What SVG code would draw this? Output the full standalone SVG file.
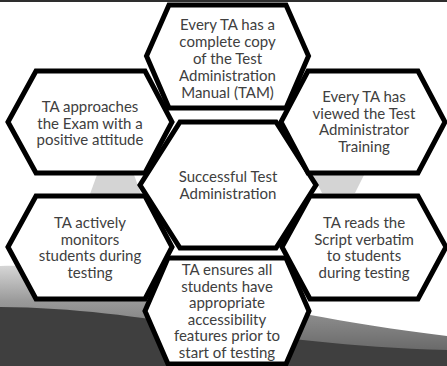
<svg xmlns="http://www.w3.org/2000/svg" width="447" height="366" viewBox="0 0 447 366">
<defs>
<style>
.hex{fill:#ffffff;stroke:#000000;stroke-width:5;stroke-linejoin:miter}
.t{font-family:Lato,"Open Sans","Liberation Sans",sans-serif;font-size:15px;fill:#404040;text-anchor:middle}
.gap{fill:#d4d4d4}
</style>
<linearGradient id="band" x1="0" y1="0" x2="0" y2="1">
<stop offset="0" stop-color="#d6d6d6"/>
<stop offset="0.35" stop-color="#9a9a9a"/>
<stop offset="1" stop-color="#5a5a5a"/>
</linearGradient>
</defs>
<rect width="447" height="366" fill="#ffffff"/>
<g id="background">
<path d="M0,266 C120,262 230,310 447,336 L447,366 L0,366 Z" fill="url(#band)"/>
<path d="M0,307 C150,308 250,345 447,350 L447,366 L0,366 Z" fill="#3f3f3f"/>
<rect x="0" y="0" width="447" height="2" fill="#2e2e2e"/>
</g>
<g id="connectors">
<polygon class="gap" points="98,172 133,172 141,194 90,194"/>
<polygon class="gap" points="312,173 365,173 355,193 322,193"/>
</g>
<g id="node-center">
<polygon class="hex" points="140,185 180,122 276,122 316,185 276,248 180,248"/>
<text class="t" x="228" y="182">Successful Test</text>
<text class="t" x="228" y="199">Administration</text>
</g>
<g id="node-top">
<polygon class="hex" points="146.5,56 169,5 286,5 308.5,56 286,108 169,108"/>
<text class="t" x="227.5" y="30">Every TA has a</text>
<text class="t" x="227.5" y="47">complete copy</text>
<text class="t" x="227.5" y="64">of the Test</text>
<text class="t" x="227.5" y="81">Administration</text>
<text class="t" x="227.5" y="98">Manual (TAM)</text>
</g>
<g id="node-upper-left">
<polygon class="hex" points="8,122 36,71 145,71 172,122 145,173 36,173"/>
<text class="t" x="90" y="112">TA approaches</text>
<text class="t" x="90" y="128.5">the Exam with a</text>
<text class="t" x="90" y="145">positive attitude</text>
</g>
<g id="node-upper-right">
<polygon class="hex" points="281,122 308,71 418,71 445,122 418,173 308,173"/>
<text class="t" x="364" y="102">Every TA has</text>
<text class="t" x="364" y="118.5">viewed the Test</text>
<text class="t" x="364" y="135">Administrator</text>
<text class="t" x="364" y="151.5">Training</text>
</g>
<g id="node-lower-left">
<polygon class="hex" points="8,247 36,196 145,196 172,247 145,299 36,299"/>
<text class="t" x="90" y="228">TA actively</text>
<text class="t" x="90" y="244.5">monitors</text>
<text class="t" x="90" y="261">students during</text>
<text class="t" x="90" y="277.5">testing</text>
</g>
<g id="node-lower-right">
<polygon class="hex" points="282,247 310,196 418,196 446,247 418,299 310,299"/>
<text class="t" x="364" y="228">TA reads the</text>
<text class="t" x="364" y="244.5">Script verbatim</text>
<text class="t" x="364" y="261">to students</text>
<text class="t" x="364" y="277.5">during testing</text>
</g>
<g id="node-bottom">
<polygon class="hex" points="145,311 168,258 286,258 309,311 286,364 168,364"/>
<text class="t" x="227" y="275">TA ensures all</text>
<text class="t" x="227" y="291.5">students have</text>
<text class="t" x="227" y="308">appropriate</text>
<text class="t" x="227" y="324.5">accessibility</text>
<text class="t" x="227" y="341">features prior to</text>
<text class="t" x="227" y="357.5">start of testing</text>
</g>
</svg>
